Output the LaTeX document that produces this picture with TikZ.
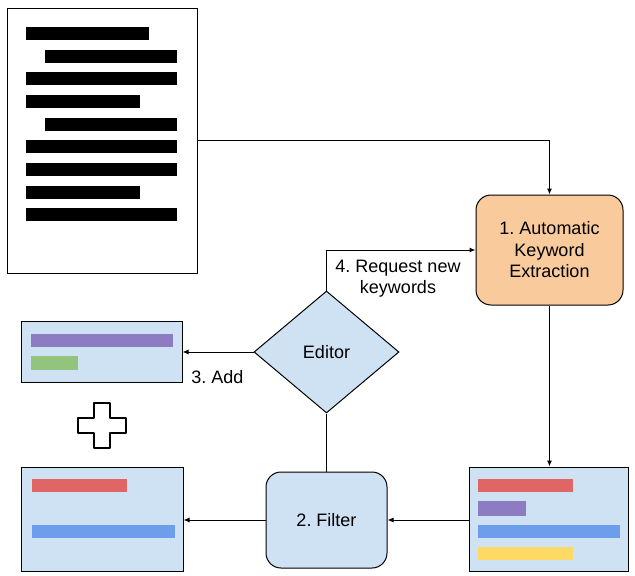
\documentclass[tikz,border=0pt]{standalone}
\usepackage{fontspec}
\setmainfont{Liberation Sans}
\usetikzlibrary{shapes.geometric,arrows.meta}
\definecolor{orangefill}{HTML}{F9CB9C}
\definecolor{bluefill}{HTML}{CFE2F3}
\definecolor{barpurple}{HTML}{8E7CC3}
\definecolor{bargreen}{HTML}{93C47D}
\definecolor{barred}{HTML}{E06666}
\definecolor{barblue}{HTML}{6D9EEB}
\definecolor{baryellow}{HTML}{FFD966}
\tikzset{
  every node/.style={font=\fontsize{18}{21.5}\selectfont\frenchspacing, text=black},
  boxst/.style={draw=black, line width=1pt, rectangle, inner sep=0pt},
  roundst/.style={draw=black, line width=1pt, rectangle, rounded corners=15pt, inner sep=0pt, align=center},
  diast/.style={draw=black, line width=1pt, diamond, inner sep=0pt, fill=bluefill},
  arr/.style={line width=1pt, -{Latex[length=6pt,width=5pt]}},
  plainline/.style={line width=1pt},
  txtbar/.style={fill=black},
  lbl/.style={align=center, inner sep=0pt},
}
\begin{document}
\begin{tikzpicture}[x=1pt,y=-1pt]
\useasboundingbox (0,0) rectangle (635,576);
% document
\node[boxst, fill=white, minimum width=190pt, minimum height=265pt] (doc) at (102,140.5) {};
\foreach \xa/\xb/\ya in {26/149/27, 45/177/49.5, 26/177/72, 26/140/95, 45/177/117.5, 26/177/140, 26/177/163, 26/140/185.5, 26/177/208}
  \fill[txtbar] (\xa,\ya) rectangle (\xb,\ya+13);
% keyword extraction
\node[roundst, fill=orangefill, minimum width=147pt, minimum height=110pt] (kex) at (549.5,250) {1. Automatic\\Keyword\\Extraction};
% editor
\node[diast, minimum width=145pt, minimum height=122pt] (ed) at (326.5,352) {Editor};
% top-left box
\node[boxst, fill=bluefill, minimum width=161pt, minimum height=61pt] (tl) at (101.5,351.5) {};
\fill[barpurple] (31,334) rectangle (173,347);
\fill[bargreen] (31,356) rectangle (78,370);
% plus
\draw[line width=2pt, fill=white, line join=round] (94,403) -- (110,403) -- (110,418) -- (126,418) -- (126,433) -- (110,433) -- (110,448) -- (94,448) -- (94,433) -- (78,433) -- (78,418) -- (94,418) -- cycle;
% bottom-left box
\node[boxst, fill=bluefill, minimum width=162pt, minimum height=104pt] (bl) at (102,519) {};
\fill[barred] (32,479) rectangle (127,492);
\fill[barblue] (32,525) rectangle (175,538);
% filter
\node[roundst, fill=bluefill, minimum width=121pt, minimum height=96pt] (flt) at (326.5,520) {2. Filter};
% right box
\node[boxst, fill=bluefill, minimum width=159pt, minimum height=104pt] (rb) at (548.5,519) {};
\fill[barred] (478,479) rectangle (573,492);
\fill[barpurple] (478,501) rectangle (526,516);
\fill[barblue] (478,525) rectangle (620,538);
\fill[baryellow] (478,547) rectangle (573,560);
% connectors
\draw[arr] (doc.east) -| (kex.north);
\draw[arr] (kex.south) -- (kex.south |- rb.north);
\draw[arr] (rb.west |- flt.east) -- (flt.east);
\draw[arr] (flt.west) -- (flt.west -| bl.east);
\draw[plainline] (ed.south) -- (ed.south |- flt.north);
\draw[arr] (ed.west) -- (ed.west -| tl.east);
\draw[arr] (ed.north) |- (kex.west);
% labels
\node[lbl] (lreq) at (398,278.5) {4. Request new\\keywords};
\node[lbl] (ladd) at (217.5,377) {3. Add};
\end{tikzpicture}
\end{document}
